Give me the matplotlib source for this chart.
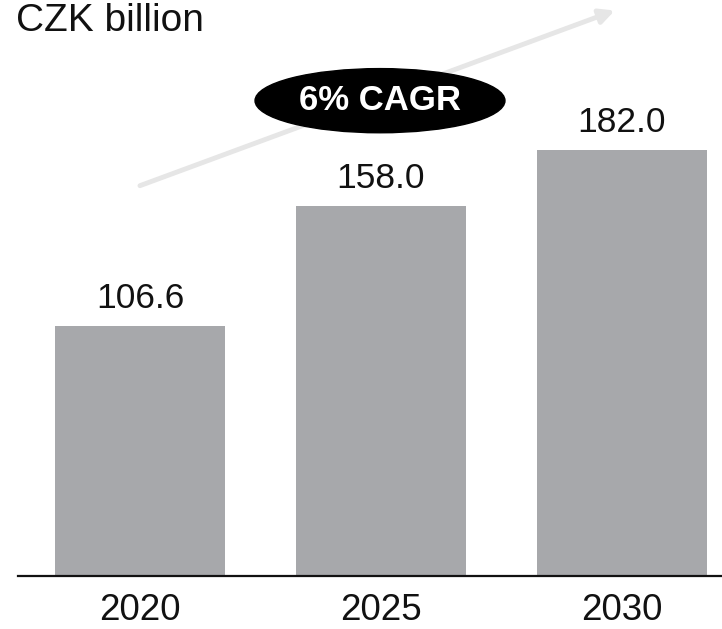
import matplotlib.pyplot as plt
from matplotlib.patches import Ellipse

years = ['2020', '2025', '2030']
values = [106.6, 158.0, 182.0]
value_labels = ['106.6', '158.0', '182.0']
unit_label = 'CZK billion'
cagr_label = '6% CAGR'

plt.rcParams['font.family'] = ['Liberation Sans', 'DejaVu Sans']

fig = plt.figure(figsize=(7.22, 6.29), dpi=100)
ax = fig.add_axes([18 / 722, 53 / 629, 704 / 722, 576 / 629])

x = list(range(len(years)))
bars = ax.bar(x, values, width=0.705, color='#a7a8ab')
ax.set_xlim(-0.506, 2.415)
ax.set_ylim(0, 246)

for b, lab in zip(bars, value_labels):
    ax.annotate(lab, (b.get_x() + b.get_width() / 2, b.get_height()),
                xytext=(0, 8), textcoords='offset points',
                ha='center', va='bottom', fontsize=25.5, color='#111111')

ax.set_xticks(x)
ax.set_xticklabels(years, fontsize=26.5, color='#111111')
ax.tick_params(axis='x', length=0, pad=12)
ax.set_yticks([])
for s in ['top', 'left', 'right']:
    ax.spines[s].set_visible(False)
ax.spines['bottom'].set_linewidth(1.6)
ax.spines['bottom'].set_color('#111111')

# growth arrow and CAGR badge
ax.annotate('', xy=(1.97, 241.5), xytext=(0, 166.7),
            arrowprops=dict(arrowstyle='-|>', color='#e6e6e6', lw=3.5,
                            mutation_scale=22, shrinkA=0, shrinkB=0),
            annotation_clip=False)
ax.add_patch(Ellipse((0.996, 203), 1.037, 27.4, color='black', zorder=5))
ax.text(0.996, 203, cagr_label, ha='center', va='center', fontsize=25,
        fontweight='bold', color='white', zorder=6)

fig.text(16 / 722, 1 - 3 / 629, unit_label, ha='left', va='top',
         fontsize=28, color='#111111')

fig.savefig('out.png', dpi=100)
